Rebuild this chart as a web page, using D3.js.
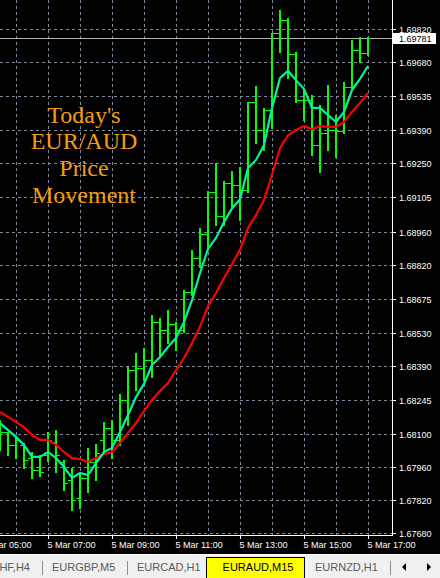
<!DOCTYPE html>
<html><head><meta charset="utf-8">
<script src="https://cdn.jsdelivr.net/npm/d3@7"></script>
<style>
html,body{margin:0;padding:0;background:#000;overflow:hidden}
svg{display:block}
</style></head><body>
<svg id="c" width="440" height="578"></svg>
<script>
// ---------- data ----------
const barTimes = ["05:30","05:45","06:00","06:15","06:30","06:45","07:00","07:15","07:30","07:45",
"08:00","08:15","08:30","08:45","09:00","09:15","09:30","09:45","10:00","10:15",
"10:30","10:45","11:00","11:15","11:30","11:45","12:00","12:15","12:30","12:45",
"13:00","13:15","13:30","13:45","14:00","14:15","14:30","14:45","15:00","15:15",
"15:30","15:45","16:00","16:15","16:30","16:45","17:00"];
const openP = [1.68075,1.68109,1.68054,1.68054,1.67998,1.67947,1.68011,1.68066,1.67982,1.67905,
1.67829,1.67914,1.67982,1.68075,1.68126,1.68075,1.68245,1.68372,1.68381,1.68415,
1.68576,1.68542,1.68568,1.68542,1.68703,1.68848,1.68950,1.69128,1.69026,1.69166,
1.69156,1.69136,1.69510,1.69391,1.69476,1.69803,1.69858,1.69714,1.69518,1.69518,
1.69327,1.69378,1.69391,1.69387,1.69574,1.69731,1.69718];
const highP = [1.68160,1.68109,1.68083,1.68062,1.68024,1.68011,1.68109,1.68117,1.67990,1.67956,
1.67931,1.68041,1.68058,1.68151,1.68160,1.68270,1.68385,1.68444,1.68466,1.68606,
1.68593,1.68627,1.68576,1.68712,1.68882,1.68975,1.69132,1.69251,1.69175,1.69217,
1.69234,1.69510,1.69578,1.69485,1.69803,1.69901,1.69867,1.69722,1.69561,1.69540,
1.69497,1.69582,1.69455,1.69595,1.69773,1.69786,1.69786];
const lowP = [1.68032,1.68011,1.67998,1.67956,1.67914,1.67922,1.67986,1.67939,1.67863,1.67778,
1.67786,1.67854,1.67905,1.68024,1.67998,1.68054,1.68139,1.68287,1.68330,1.68342,
1.68427,1.68487,1.68457,1.68533,1.68691,1.68809,1.68894,1.68988,1.68988,1.69064,
1.69009,1.69128,1.69336,1.69306,1.69400,1.69722,1.69612,1.69510,1.69434,1.69285,
1.69213,1.69306,1.69277,1.69378,1.69569,1.69680,1.69710];
const closeP = [1.68109,1.68054,1.68075,1.67990,1.67947,1.67939,1.68075,1.68011,1.67892,1.67820,
1.67914,1.67982,1.68020,1.68126,1.68075,1.68245,1.68372,1.68381,1.68415,1.68576,
1.68542,1.68568,1.68542,1.68703,1.68848,1.68950,1.69128,1.69026,1.69166,1.69156,
1.69136,1.69510,1.69391,1.69476,1.69803,1.69858,1.69714,1.69518,1.69518,1.69327,
1.69378,1.69391,1.69387,1.69574,1.69731,1.69718,1.69781];
const maFast = [1.68147,1.68117,1.68088,1.68054,1.68003,1.68003,1.68024,1.67998,1.67960,1.67914,
1.67935,1.67926,1.67977,1.68024,1.68041,1.68109,1.68181,1.68257,1.68313,1.68393,
1.68427,1.68470,1.68508,1.68576,1.68669,1.68784,1.68886,1.68933,1.69000,1.69058,
1.69097,1.69230,1.69264,1.69327,1.69485,1.69612,1.69642,1.69603,1.69565,1.69485,
1.69485,1.69455,1.69425,1.69468,1.69561,1.69608,1.69663];
const maSlow = [1.68194,1.68173,1.68151,1.68130,1.68096,1.68075,1.68075,1.68054,1.68024,1.67998,
1.67994,1.67982,1.67998,1.68015,1.68024,1.68062,1.68105,1.68147,1.68198,1.68245,
1.68283,1.68317,1.68372,1.68423,1.68487,1.68555,1.68644,1.68699,1.68763,1.68822,
1.68882,1.68975,1.69030,1.69094,1.69201,1.69315,1.69369,1.69391,1.69408,1.69394,
1.69408,1.69404,1.69404,1.69425,1.69468,1.69506,1.69548];
const priceTicks = [1.67680,1.67820,1.67960,1.68100,1.68245,1.68390,1.68530,1.68675,
1.68820,1.68960,1.69105,1.69250,1.69390,1.69535,1.69680,1.69820];
const timeTicks = ["05:00","07:00","09:00","11:00","13:00","15:00","17:00"];
const gridTimes = ["06:00","07:00","08:00","09:00","10:00","11:00","12:00","13:00","14:00","15:00","16:00","17:00"];
const bidPrice = 1.69781;
const titleLines = ["Today's","EUR/AUD","Price","Movement"];
const tabNames = ["CHF,H4","EURGBP,M5","EURCAD,H1","EURAUD,M15","EURNZD,H1","CHFJPY,H1"];
const activeTab = "EURAUD,M15";

// ---------- setup ----------
const W = 440, H = 578;
const plotR = 392, plotB = 535;
const parse = d3.timeParse("%Y-%m-%d %H:%M");
const T = s => parse("2024-03-05 " + s);
const x = d3.scaleTime().domain([T("05:00"), T("17:00")]).range([-16, 368]);
const y = d3.scaleLinear().domain([1.67680, 1.69820]).range([533, 29]);

const svg = d3.select("#c");
svg.append("rect").attr("width", W).attr("height", H).attr("fill", "#000");

const defs = svg.append("defs");
defs.append("clipPath").attr("id", "plot").append("rect")
  .attr("x", 0).attr("y", 0).attr("width", plotR).attr("height", plotB);

const gridCol = "#7d8898";
const plot = svg.append("g").attr("clip-path", "url(#plot)");

// grid
plot.append("g").selectAll("line").data(priceTicks).join("line")
  .attr("x1", 0).attr("x2", plotR)
  .attr("y1", d => Math.round(y(d)) + 0.5).attr("y2", d => Math.round(y(d)) + 0.5)
  .attr("stroke", gridCol).attr("stroke-dasharray", "3,3").attr("shape-rendering", "crispEdges");
plot.append("g").selectAll("line").data(gridTimes).join("line")
  .attr("y1", 0).attr("y2", plotB)
  .attr("x1", d => Math.round(x(T(d))) + 0.5).attr("x2", d => Math.round(x(T(d))) + 0.5)
  .attr("stroke", gridCol).attr("stroke-dasharray", "3,3").attr("shape-rendering", "crispEdges");

// title text
const title = svg.append("g");
titleLines.forEach((t, i) => {
  title.append("text").attr("x", 84).attr("y", 122.5 + i * 26.7)
    .attr("text-anchor", "middle")
    .attr("font-family", "'Liberation Serif','Times New Roman',serif")
    .attr("font-size", 24).attr("fill", "#f59d12").text(t);
});

// bid line
plot.append("line").attr("x1", 0).attr("x2", plotR)
  .attr("y1", Math.round(y(bidPrice)) + 0.5).attr("y2", Math.round(y(bidPrice)) + 0.5)
  .attr("stroke", "#b4b4b4").attr("shape-rendering", "crispEdges");

// bars
const bars = plot.append("g").attr("stroke", "#00ff00").attr("shape-rendering", "crispEdges");
barTimes.forEach((t, i) => {
  const cx = Math.round(x(T(t)));
  const g = bars.append("g");
  g.append("line").attr("x1", cx).attr("x2", cx)
    .attr("y1", Math.round(y(highP[i]))).attr("y2", Math.round(y(lowP[i])) + 1)
    .attr("stroke-width", 2);
  g.append("line").attr("x1", cx - 4).attr("x2", cx)
    .attr("y1", Math.round(y(openP[i])) + 0.5).attr("y2", Math.round(y(openP[i])) + 0.5)
    .attr("stroke-width", 1);
  g.append("line").attr("x1", cx).attr("x2", cx + 4)
    .attr("y1", Math.round(y(closeP[i])) + 0.5).attr("y2", Math.round(y(closeP[i])) + 0.5)
    .attr("stroke-width", 1);
});

// moving averages
const line = d3.line().x((d, i) => x(T(barTimes[i]))).y(d => y(d));
plot.append("path").datum(maSlow).attr("d", line)
  .attr("fill", "none").attr("stroke", "#ff0000").attr("stroke-width", 2.2);
plot.append("path").datum(maFast).attr("d", line)
  .attr("fill", "none").attr("stroke", "#00f5a0").attr("stroke-width", 2.2);

// frame
svg.append("line").attr("x1", plotR + 0.5).attr("x2", plotR + 0.5).attr("y1", 0).attr("y2", plotB + 1)
  .attr("stroke", "#fff").attr("shape-rendering", "crispEdges");
svg.append("line").attr("x1", 0).attr("x2", plotR + 1).attr("y1", plotB + 0.5).attr("y2", plotB + 0.5)
  .attr("stroke", "#fff").attr("shape-rendering", "crispEdges");

// price axis
const font = "'Liberation Sans',Arial,sans-serif";
const yAxis = d3.axisRight(y).tickValues(priceTicks).tickFormat(d3.format(".5f"))
  .tickSize(4).tickPadding(3);
const ya = svg.append("g").attr("transform", `translate(${plotR},0)`).call(yAxis);
ya.select(".domain").remove();
ya.selectAll(".tick").attr("transform", d => `translate(0,${Math.round(y(d)) + 0.5})`);
ya.selectAll(".tick line").attr("stroke", "#fff").attr("shape-rendering", "crispEdges");
ya.selectAll(".tick text").attr("x", 7).attr("fill", "#fff")
  .attr("font-family", font).attr("font-size", 9).attr("dy", "0.35em");

// bid label
const by = Math.round(y(bidPrice));
svg.append("rect").attr("x", 393).attr("y", by - 5).attr("width", 43).attr("height", 11)
  .attr("fill", "#fff");
svg.append("text").attr("x", 399).attr("y", by + 0.5).attr("dy", "0.35em")
  .attr("font-family", font).attr("font-size", 9).attr("fill", "#000")
  .text(d3.format(".5f")(bidPrice));

// time axis
const xAxis = d3.axisBottom(x).tickValues(timeTicks.map(T))
  .tickFormat(d3.timeFormat("%-d %b %H:%M")).tickSize(4).tickPadding(3);
const xa = svg.append("g").attr("transform", `translate(0,${plotB})`).call(xAxis);
xa.select(".domain").remove();
xa.selectAll(".tick").attr("transform", d => `translate(${Math.round(x(d)) + 0.5},0)`);
xa.selectAll(".tick line").attr("stroke", "#fff").attr("shape-rendering", "crispEdges");
xa.selectAll(".tick text").attr("x", -1).attr("y", 6).attr("text-anchor", "start")
  .attr("fill", "#fff").attr("font-family", font).attr("font-size", 9).attr("dy", "0.75em");

// ---------- tab bar ----------
const tb = svg.append("g");
tb.append("rect").attr("x", 0).attr("y", 554).attr("width", W).attr("height", 24).attr("fill", "#f0f0f0");
tb.append("line").attr("x1", 0).attr("x2", W).attr("y1", 554.5).attr("y2", 554.5)
  .attr("stroke", "#ffffff").attr("shape-rendering", "crispEdges");
const tabY = 570.5;
let cursor = null;
tabNames.forEach((name, i) => {
  const active = name === activeTab;
  const txt = tb.append("text").attr("y", tabY).attr("font-family", font).attr("font-size", 11)
    .attr("fill", active ? "#000" : "#5a5a5a").text(name);
  const w = txt.node().getComputedTextLength();
  if (i === 0) { cursor = 30 - w; txt.attr("x", cursor); cursor = 30; }
  else if (active) {
    const rx = cursor + 5;
    const tx = rx + 17;
    const rEnd = tx + w + 11;
    tb.insert("rect", "text").attr("x", rx + 0.5).attr("y", 557.5).attr("width", rEnd - rx).attr("height", 22)
      .attr("fill", "#ffff00").attr("stroke", "#000").attr("shape-rendering", "crispEdges");
    txt.attr("x", tx).raise();
    cursor = rEnd + 10.5 - 10.5; // next text starts after gap
    cursor = -(rEnd + 10.5); // marker: next starts directly
  } else {
    let tx;
    if (cursor < 0) { tx = -cursor; }
    else {
      const sx = Math.round(cursor + 12) + 0.5;
      tb.append("line").attr("x1", sx).attr("x2", sx).attr("y1", 561).attr("y2", 575)
        .attr("stroke", "#8c8c8c").attr("shape-rendering", "crispEdges");
      tx = sx + 9.5;
    }
    txt.attr("x", tx);
    cursor = tx + w;
  }
});
// scroll arrows area
tb.append("rect").attr("x", 398).attr("y", 556).attr("width", 42).attr("height", 22).attr("fill", "#f0f0f0");
tb.append("path").attr("d", "M402,567 L406,563 L406,571 Z").attr("fill", "#000");
tb.append("path").attr("d", "M431,567 L427,563 L427,571 Z").attr("fill", "#000");
</script>
</body></html>
